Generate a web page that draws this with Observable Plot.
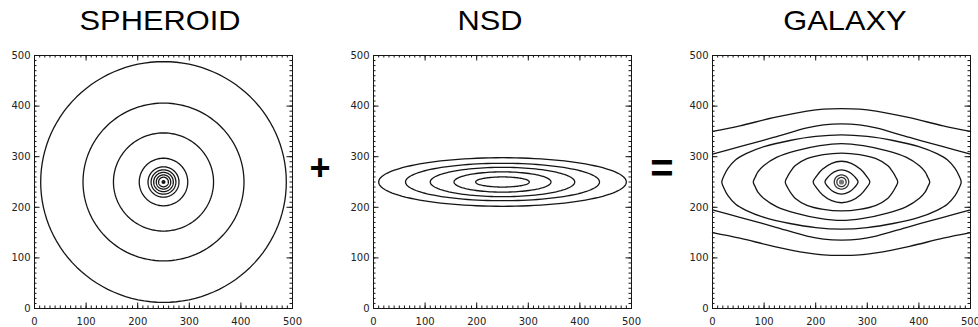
<!DOCTYPE html>
<html>
<head>
<meta charset="utf-8">
<script src="https://cdn.jsdelivr.net/npm/d3@7"></script>
<script src="https://cdn.jsdelivr.net/npm/@observablehq/plot@0.6"></script>
<style>
  html, body { margin: 0; padding: 0; background: #fff; overflow: hidden; }
  #fig { position: relative; width: 978px; height: 327px; font-family: "Liberation Sans", Arial, sans-serif; }
  .panel { position: absolute; top: 40px; }
  .title { position: absolute; top: 7px; font-size: 28px; line-height: 28px; color: #000;
           white-space: nowrap; transform: translateX(-50%) scaleX(1.1); }
  .op { position: absolute; font-weight: bold; color: #000; line-height: 1; transform: translate(-50%, -50%); }
</style>
</head>
<body>
<div id="fig"></div>
<script>
// Axis ticks shared by the three panels (pixel units 0-500)
const majorTicks = [0, 100, 200, 300, 400, 500];
const minorTicks = d3.range(0, 501, 10);
const centre = 250;

// Spheroid: circular isophotes (radii in pixels)
const spheroidRadii = [238, 156, 97, 47, 30, 24, 19, 14, 9.5];
const spheroidCore = [{x: 250, y: 250, r: 4}];

// Nuclear stellar disc: elliptical isophotes
const nsdSemiMajor = [240, 188, 140, 94, 52];
const nsdSemiMinor = [48, 37, 29, 20, 10];

// Galaxy: the two outermost isophotes leave the field; upper edge, left half
const galaxyOpenUpper = [
  [[0, 350], [53, 361], [118, 377], [183, 390], [215, 394], [250, 395]],
  [[0, 305], [53, 320], [118, 338], [183, 357], [215, 363], [250, 365]]
];
// Galaxy: closed isophotes, upper-left quadrant from the tip to the top
const galaxyClosedQuadrant = [
  [[18, 250], [22, 262], [30, 277], [45, 294], [65, 306], [100, 320], [150, 332], [200, 340], [250, 343]],
  [[79, 250], [83, 260], [88, 270], [99, 282], [125, 299], [163, 312], [208, 322], [250, 326]],
  [[141, 250], [145, 260], [152, 272], [160, 282], [183, 296], [215, 304], [250, 307]],
  [[195, 250], [202, 262], [213, 275], [231, 287], [250, 291]],
  [[218, 250], [225, 261], [236, 270], [250, 274]]
];
const galaxyRingRadii = [14, 9];
const galaxyCore = [{x: 250, y: 250, r: 5}];

const titles = ["SPHEROID", "NSD", "GALAXY"];
const titleCentres = [160, 490, 845];
const operators = ["+", "="];

// ---------- geometry helpers ----------
function ellipseRows(id, a, b, n = 120) {
  return d3.range(n).map(i => {
    const t = (2 * Math.PI * i) / n;
    return {id, x: centre + a * Math.cos(t), y: centre + b * Math.sin(t)};
  });
}
function closedFromQuadrant(id, q) {
  const m = q.length;
  const pts = [];
  for (let i = 0; i < m; i++) pts.push([q[i][0], q[i][1]]);
  for (let i = m - 2; i >= 0; i--) pts.push([2 * centre - q[i][0], q[i][1]]);
  for (let i = 1; i < m; i++) pts.push([2 * centre - q[i][0], 2 * centre - q[i][1]]);
  for (let i = m - 2; i >= 1; i--) pts.push([q[i][0], 2 * centre - q[i][1]]);
  return pts.map(([x, y]) => ({id, x, y}));
}
function openFromHalf(id, half, flipY) {
  const pts = half.map(p => p.slice());
  for (let i = half.length - 2; i >= 0; i--) pts.push([2 * centre - half[i][0], half[i][1]]);
  return pts.map(([x, y]) => ({id, x, y: flipY ? 2 * centre - y : y}));
}

// ---------- panel ----------
const W = 300, H = 287, ML = 34, MR = 8, MT = 15, MB = 19;
const PW = W - ML - MR, PH = H - MT - MB;
const ink = "#151515";

function axisMarks() {
  const s = {stroke: ink, strokeWidth: 1};
  return [
    Plot.tickX(minorTicks, {x: d => d, insetTop: PH - 2.5, ...s}),
    Plot.tickX(minorTicks, {x: d => d, insetBottom: PH - 2.5, ...s}),
    Plot.tickX(majorTicks, {x: d => d, insetTop: PH - 5.5, ...s}),
    Plot.tickX(majorTicks, {x: d => d, insetBottom: PH - 5.5, ...s}),
    Plot.tickY(minorTicks, {y: d => d, insetRight: PW - 2.5, ...s}),
    Plot.tickY(minorTicks, {y: d => d, insetLeft: PW - 2.5, ...s}),
    Plot.tickY(majorTicks, {y: d => d, insetRight: PW - 5.5, ...s}),
    Plot.tickY(majorTicks, {y: d => d, insetLeft: PW - 5.5, ...s}),
    Plot.axisX(majorTicks, {tickSize: 0, tickPadding: 9, fontSize: 10, label: null}),
    Plot.axisY(majorTicks, {tickSize: 0, tickPadding: 4, fontSize: 10, label: null}),
    Plot.frame({stroke: ink, strokeWidth: 1})
  ];
}

function panel(marks) {
  return Plot.plot({
    width: W, height: H,
    marginLeft: ML, marginRight: MR, marginTop: MT, marginBottom: MB,
    x: {domain: [0, 500], label: null},
    y: {domain: [0, 500], label: null},
    r: {type: "linear", domain: [0, 500], range: [0, PW]},
    style: {fontFamily: "DejaVu Sans, sans-serif", fontSize: "10px", color: "#222", background: "transparent", overflow: "visible"},
    marks: [...marks, ...axisMarks()]
  });
}

const lineStyle = {x: "x", y: "y", z: "id", stroke: ink, strokeWidth: 1.3};

// Spheroid
const sphRows = spheroidRadii.flatMap((r, i) => ellipseRows(i, r, r));
const p1 = panel([
  Plot.line(sphRows, {...lineStyle, curve: "linear-closed"}),
  Plot.dot(spheroidCore, {x: "x", y: "y", r: "r", fill: ink, stroke: null})
]);

// NSD
const nsdRows = nsdSemiMajor.flatMap((a, i) => ellipseRows(i, a, nsdSemiMinor[i]));
const p2 = panel([
  Plot.line(nsdRows, {...lineStyle, curve: "linear-closed"})
]);

// Galaxy
const galClosed = galaxyClosedQuadrant.flatMap((q, i) => closedFromQuadrant("c" + i, q));
const galOpen = galaxyOpenUpper.flatMap((h, i) => [
  ...openFromHalf("u" + i, h, false),
  ...openFromHalf("l" + i, h, true)
]);
const galRings = galaxyRingRadii.flatMap((r, i) => ellipseRows("r" + i, r, r, 60));
const p3 = panel([
  Plot.line(galOpen, {...lineStyle, curve: "catmull-rom"}),
  Plot.line(galClosed, {...lineStyle, curve: "catmull-rom-closed"}),
  Plot.line(galRings, {...lineStyle, stroke: "#333", curve: "linear-closed"}),
  Plot.dot(galaxyCore, {x: "x", y: "y", r: "r", fill: "#777", stroke: null})
]);

const fig = document.getElementById("fig");
[p1, p2, p3].forEach((svg, i) => {
  const wrap = document.createElement("div");
  wrap.className = "panel";
  wrap.style.left = (i * 339) + "px";
  wrap.appendChild(svg);
  fig.appendChild(wrap);
});

titles.forEach((t, i) => {
  const d = document.createElement("div");
  d.className = "title";
  d.style.left = titleCentres[i] + "px";
  d.textContent = t;
  fig.appendChild(d);
});

const opPos = [[320, 168, 36], [662, 168, 40]];
operators.forEach((o, i) => {
  const d = document.createElement("div");
  d.className = "op";
  d.style.left = opPos[i][0] + "px";
  d.style.top = opPos[i][1] + "px";
  d.style.fontSize = opPos[i][2] + "px";
  d.textContent = o;
  fig.appendChild(d);
});
</script>
</body>
</html>
